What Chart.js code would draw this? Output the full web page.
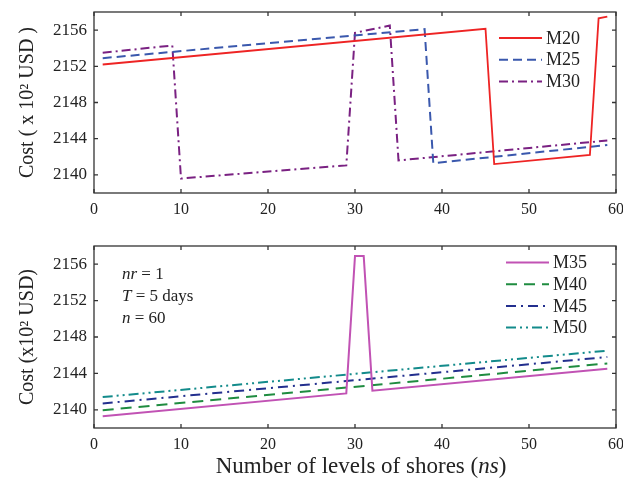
<!DOCTYPE html>
<html>
<head>
<meta charset="utf-8">
<script src="https://cdn.jsdelivr.net/npm/chart.js@4.4.0/dist/chart.umd.min.js"></script>
<style>
  html, body { margin: 0; padding: 0; background: #fff; }
  #wrap { position: relative; width: 623px; height: 482px; }
  canvas { position: absolute; left: 0; }
</style>
</head>
<body>
<div id="wrap">
  <canvas id="costTop" width="623" height="230" style="top:0"></canvas>
  <canvas id="costBottom" width="623" height="252" style="top:230px"></canvas>
</div>
<script>
// axis ticks
const xTicks = [0, 10, 20, 30, 40, 50, 60];
const yTicks = [2140, 2144, 2148, 2152, 2156];

// top panel (x = ns, y = cost)
const ns20 = [1, 45, 46, 57, 58, 59];
const m20  = [2152.2, 2156.15, 2141.2, 2142.2, 2157.3, 2157.5];
const ns25 = [1, 38, 39, 59];
const m25  = [2152.9, 2156.1, 2141.3, 2143.3];
const ns30 = [1, 9, 10, 29, 30, 34, 35, 59];
const m30  = [2153.5, 2154.3, 2139.6, 2141.05, 2155.7, 2156.5, 2141.6, 2143.8];

// bottom panel
const ns35 = [1, 29, 30, 31, 32, 59];
const m35  = [2139.3, 2141.8, 2156.9, 2156.9, 2142.1, 2144.5];
const ns40 = [1, 59];
const m40  = [2139.95, 2145.1];
const ns45 = [1, 59];
const m45  = [2140.7, 2145.8];
const ns50 = [1, 59];
const m50  = [2141.4, 2146.5];

const FONT = '"Liberation Serif", "Times New Roman", serif';
const INK = '#222';

function series(label, xs, ys, color, dash, width) {
    return {
        label: label,
        data: xs.map((x, i) => ({ x: x, y: ys[i] })),
        borderColor: color,
        backgroundColor: color,
        borderWidth: width || 2,
        borderDash: dash || [],
        pointRadius: 0,
        showLine: true,
        fill: false,
        tension: 0,
    };
}

function makeScales(yTitle, xHeight) {
    return {
        x: {
            type: 'linear', min: 0, max: 60,
            grid: { display: false, drawTicks: false },
            border: { display: false },
            ticks: { font: { family: FONT, size: 16 }, color: INK, padding: 7 },
            afterBuildTicks: s => { s.ticks = xTicks.map(v => ({ value: v })); },
            afterFit: s => { s.height = xHeight; s.paddingLeft = 0; s.paddingRight = 0; },
        },
        y: {
            min: 2138, max: 2158,
            grid: { display: false, drawTicks: false },
            border: { display: false },
            ticks: { font: { family: FONT, size: 17 }, color: INK, padding: 7,
                     callback: v => String(v) },
            title: { display: true, text: yTitle, color: INK,
                     font: { family: FONT, size: 20 }, padding: { top: 16, bottom: 0 } },
            afterBuildTicks: s => { s.ticks = yTicks.map(v => ({ value: v })); },
            afterFit: s => { s.width = 94; s.paddingTop = 0; s.paddingBottom = 0; },
        },
    };
}

// box round the plot, ticks pointing inwards on all four sides
const frame = {
    id: 'frame',
    afterDatasetsDraw(chart) {
        const { ctx, chartArea: a, scales: { x, y } } = chart;
        ctx.save();
        ctx.strokeStyle = '#333';
        ctx.lineWidth = 1.3;
        ctx.strokeRect(a.left, a.top, a.right - a.left, a.bottom - a.top);
        ctx.beginPath();
        xTicks.forEach(v => {
            const p = x.getPixelForValue(v);
            ctx.moveTo(p, a.bottom); ctx.lineTo(p, a.bottom - 4);
            ctx.moveTo(p, a.top); ctx.lineTo(p, a.top + 4);
        });
        yTicks.forEach(v => {
            const p = y.getPixelForValue(v);
            ctx.moveTo(a.left, p); ctx.lineTo(a.left + 4, p);
            ctx.moveTo(a.right, p); ctx.lineTo(a.right - 4, p);
        });
        ctx.stroke();
        ctx.restore();
    }
};

// legend inside the plot, drawn from the datasets' own styles
const inLegend = {
    id: 'inLegend',
    afterDatasetsDraw(chart, args, opts) {
        const ctx = chart.ctx;
        ctx.save();
        chart.data.datasets.forEach((ds, i) => {
            const yy = opts.y0 + i * opts.dy;
            ctx.strokeStyle = ds.borderColor;
            ctx.lineWidth = ds.borderWidth;
            ctx.setLineDash(ds.borderDash);
            ctx.beginPath();
            ctx.moveTo(opts.x0, yy);
            ctx.lineTo(opts.x1, yy);
            ctx.stroke();
            ctx.setLineDash([]);
            ctx.fillStyle = INK;
            ctx.font = '18px ' + FONT;
            ctx.textBaseline = 'middle';
            ctx.textAlign = 'left';
            ctx.fillText(ds.label, opts.x1 + 4, yy + 1);
        });
        ctx.restore();
    }
};

// free text with italic runs
function drawRuns(ctx, runs, x, y, size, align) {
    const fontOf = it => (it ? 'italic ' : '') + size + 'px ' + FONT;
    let total = 0;
    runs.forEach(r => { ctx.font = fontOf(r[1]); total += ctx.measureText(r[0]).width; });
    let cx = align === 'center' ? x - total / 2 : x;
    ctx.textAlign = 'left';
    ctx.textBaseline = 'middle';
    runs.forEach(r => {
        ctx.font = fontOf(r[1]);
        ctx.fillText(r[0], cx, y);
        cx += ctx.measureText(r[0]).width;
    });
}

const notes = {
    id: 'notes',
    afterDraw(chart, args, opts) {
        const ctx = chart.ctx;
        ctx.save();
        ctx.fillStyle = INK;
        (opts.lines || []).forEach((runs, i) => {
            drawRuns(ctx, runs, opts.x, opts.y0 + i * opts.dy, opts.size, 'left');
        });
        if (opts.xTitle) {
            const a = chart.chartArea;
            drawRuns(ctx, opts.xTitle, (a.left + a.right) / 2 + 6, opts.xTitleY, 23, 'center');
        }
        ctx.restore();
    }
};

Chart.register(frame, inLegend, notes);

new Chart(document.getElementById('costTop'), {
    type: 'scatter',
    data: {
        datasets: [
            series('M20', ns20, m20, '#ee2424', [], 1.8),
            series('M25', ns25, m25, '#3a58ad', [9, 5], 2),
            series('M30', ns30, m30, '#7a2182', [9, 4, 2, 4], 2),
        ],
    },
    options: {
        responsive: false,
        animation: false,
        layout: { padding: { top: 12, right: 7, left: 0, bottom: 0 } },
        scales: makeScales('Cost ( x 10\u00B2 USD )', 37),
        plugins: {
            legend: { display: false },
            tooltip: { enabled: false },
            inLegend: { x0: 499, x1: 542, y0: 38, dy: 21.7 },
            notes: {},
        },
    },
});

new Chart(document.getElementById('costBottom'), {
    type: 'scatter',
    data: {
        datasets: [
            series('M35', ns35, m35, '#c152b4', [], 2),
            series('M40', ns40, m40, '#1f8c40', [11, 7], 2),
            series('M45', ns45, m45, '#232f8e', [10, 5, 2, 5], 2),
            series('M50', ns50, m50, '#138b8b', [10, 4, 2, 4, 2, 4], 2),
        ],
    },
    options: {
        responsive: false,
        animation: false,
        layout: { padding: { top: 16, right: 7, left: 0, bottom: 0 } },
        scales: makeScales('Cost (x10\u00B2 USD)', 54),
        plugins: {
            legend: { display: false },
            tooltip: { enabled: false },
            inLegend: { x0: 506, x1: 549, y0: 32.5, dy: 21.7 },
            notes: {
                x: 122, y0: 45, dy: 22, size: 17,
                lines: [
                    [['nr', true], [' = 1', false]],
                    [['T', true], [' = 5 days', false]],
                    [['n', true], [' = 60', false]],
                ],
                xTitle: [['Number of levels of shores (', false], ['ns', true], [')', false]],
                xTitleY: 237,
            },
        },
    },
});
</script>
</body>
</html>
